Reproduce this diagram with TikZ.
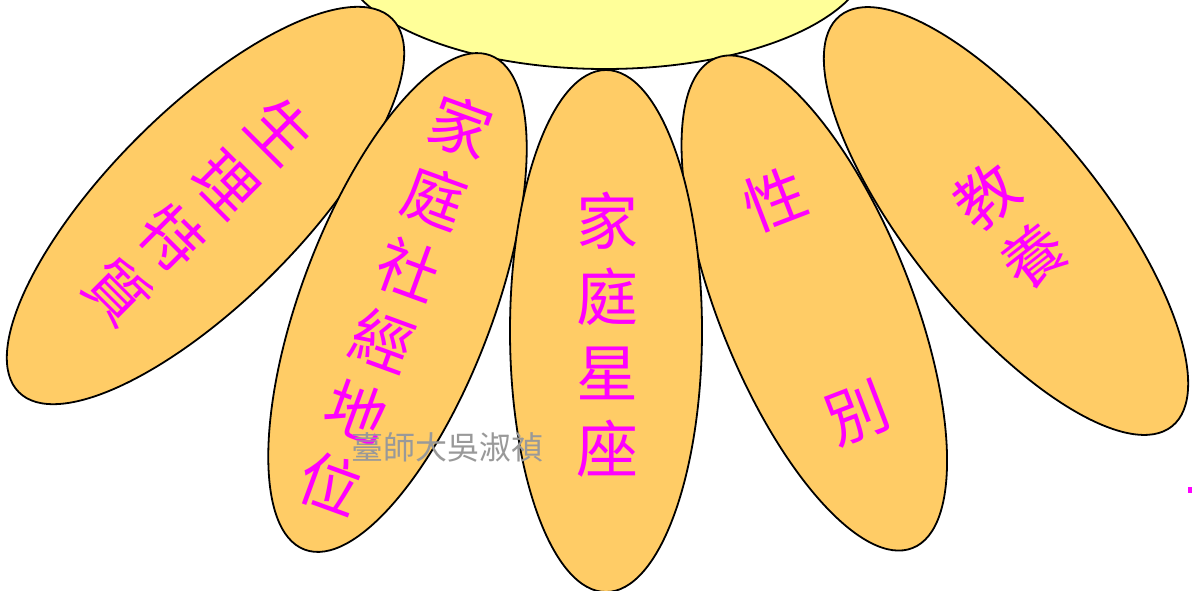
\documentclass[tikz,border=0pt]{standalone}
\usepackage{fontspec}
\newfontfamily\cjk{Noto Sans CJK TC}
\definecolor{sunfill}{HTML}{FFFF99}
\definecolor{petalfill}{HTML}{FFCC66}
\definecolor{txtmag}{HTML}{FF00FF}
\definecolor{wmgray}{HTML}{999999}
\begin{document}
\begin{tikzpicture}[x=1pt,y=1pt,
  sunshape/.style={draw=black, line width=1.8pt, fill=sunfill},
  petal/.style={draw=black, line width=1.8pt, fill=petalfill},
  petaltext/.style={text=txtmag, font=\cjk\fontsize{62}{76}\selectfont, align=center, inner sep=0pt},
  wmtext/.style={text=wmgray, font=\cjk\fontsize{32}{38}\selectfont, inner sep=0pt}]
\useasboundingbox (0,0) rectangle (1192,-590);
\clip (0,0) rectangle (1192,-590);
\fill[white] (0,0) rectangle (1192,-590);
% sun
\draw[sunshape] (605,46) ellipse [x radius=265, y radius=115];
% petals
\draw[petal, rotate around={-45:(205.5,-205.5)}] (205.5,-205.5) ellipse [x radius=96, y radius=264];
\draw[petal, rotate around={-20.6:(397.5,-302.5)}] (397.5,-302.5) ellipse [x radius=96, y radius=264];
\draw[petal, rotate around={39:(1006,-221)}] (1006,-221) ellipse [x radius=96, y radius=264];
\draw[petal, rotate around={21.9:(814.3,-303)}] (814.3,-303) ellipse [x radius=96, y radius=264];
\draw[petal] (606,-331) ellipse [x radius=96, y radius=261];
% texts
\node[petaltext, rotate=-45] (t1) at (199,-211) {生\\理\\特\\質};
\node[petaltext, rotate=-20] (t2) at (396,-305) {家\\庭\\社\\經\\地\\位};
\node[petaltext] (t3) at (607,-335) {家\\庭\\星\\座};
\node[petaltext, rotate=21] (t4) at (816,-306) {性\\[152pt]別};
\node[petaltext, rotate=38] (t5) at (1010,-226) {教\\養};
% watermark
\node[wmtext] (wm) at (447,-447) {臺師大吳淑禎};
% small magenta mark at right edge
\fill[txtmag] (1188,-487) rectangle (1192,-493);
\end{tikzpicture}
\end{document}
